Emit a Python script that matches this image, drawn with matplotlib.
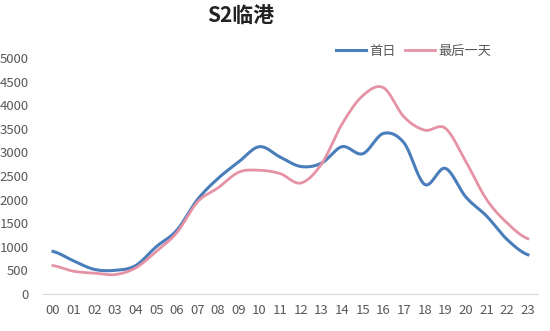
import numpy as np
import matplotlib
matplotlib.use("Agg")
import matplotlib.pyplot as plt

plt.rcParams['font.family'] = ['Noto Sans CJK SC', 'DejaVu Sans']

hours = [f"{h:02d}" for h in range(24)]
first_day = [900, 700, 520, 500, 600, 1000, 1350, 2000, 2450, 2800, 3120, 2900,
             2700, 2770, 3120, 2970, 3400, 3200, 2320, 2660, 2050, 1650, 1150, 830]
last_day = [600, 480, 440, 410, 550, 900, 1300, 1950, 2250, 2580, 2620, 2550,
            2350, 2750, 3600, 4200, 4370, 3750, 3470, 3510, 2800, 2000, 1500, 1170]


def smooth(y, n=20):
    # catmull-rom, rough stand-in for excel's smoothed line
    y = np.asarray(y, dtype=float)
    p = np.concatenate([[y[0]], y, [y[-1]]])
    xs, ys = [], []
    for i in range(len(y) - 1):
        p0, p1, p2, p3 = p[i], p[i + 1], p[i + 2], p[i + 3]
        t = np.linspace(0, 1, n, endpoint=False)
        v = 0.5 * (2 * p1 + (-p0 + p2) * t + (2 * p0 - 5 * p1 + 4 * p2 - p3) * t ** 2
                   + (-p0 + 3 * p1 - 3 * p2 + p3) * t ** 3)
        xs.append(i + t)
        ys.append(v)
    xs.append([len(y) - 1])
    ys.append([y[-1]])
    return np.concatenate(xs), np.concatenate(ys)


fig = plt.figure(figsize=(5.5, 3.31), dpi=100)
ax = fig.add_axes([0.0776, 0.112, 0.901, 0.713])

x1, y1 = smooth(first_day)
x2, y2 = smooth(last_day)
ax.plot(x1, y1, color='#4a7ebb', lw=2.2, label='首日')
ax.plot(x2, y2, color='#e592a5', lw=2.0, label='最后一天')

ax.set_xlim(-0.5, 23.5)
ax.set_ylim(0, 5000)
ax.set_xticks(range(24))
ax.set_xticklabels(hours)
ax.set_yticks(range(0, 5001, 500))
for s in ['top', 'right', 'left']:
    ax.spines[s].set_visible(False)
ax.spines['bottom'].set_color('#d9d9d9')
ax.tick_params(axis='both', length=0, labelsize=9.5, colors='#595959', pad=7)
ax.tick_params(axis='y', pad=10)

fig.text(0.437, 0.95, 'S2临港', ha='center', va='center', fontsize=15,
         fontweight='bold', color='#222222')
ax.legend(loc='upper right', bbox_to_anchor=(0.93, 1.105), ncol=2, frameon=False,
          fontsize=9.5, handlelength=2.3, columnspacing=0.7, handletextpad=0.25,
          labelcolor='#595959')

fig.savefig('out.png', dpi=100)
